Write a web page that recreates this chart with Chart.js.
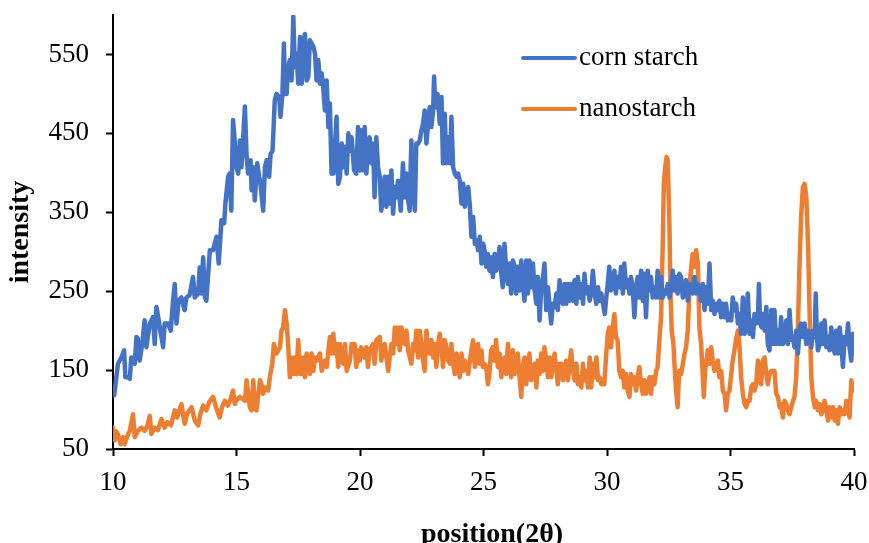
<!DOCTYPE html>
<html>
<head>
<meta charset="utf-8">
<script src="https://cdn.jsdelivr.net/npm/chart.js@4/dist/chart.umd.min.js"></script>
<style>
  html, body { margin: 0; padding: 0; background: #fff; }
  #c { display: block; }
</style>
</head>
<body>
<canvas id="c" width="869" height="543"></canvas>
<script>
// ---- data ----
const seriesNames = ["corn starch", "nanostarch"];
const xTitle = "position(2θ)";
const yTitle = "intensity";
const yTickValues = [50, 150, 250, 350, 450, 550];

const cornAngle = [
  10.00,10.05,10.20,10.34,10.45,10.50,10.60,10.68,10.74,10.88,
  10.95,11.00,11.08,11.18,11.28,11.35,11.49,11.62,11.69,11.76,
  11.85,11.96,12.03,12.09,12.23,12.34,12.43,12.50,12.57,12.66,
  12.77,12.90,12.97,13.10,13.24,13.31,13.45,13.51,13.58,13.65,
  13.72,13.78,13.92,14.05,14.19,14.28,14.39,14.50,14.55,14.66,
  14.72,14.79,14.86,14.93,15.00,15.07,15.14,15.20,15.27,15.34,
  15.41,15.47,15.57,15.61,15.68,15.74,15.84,15.92,15.97,16.08,
  16.15,16.22,16.32,16.38,16.46,16.55,16.62,16.73,16.78,16.86,
  16.92,16.96,17.03,17.09,17.16,17.23,17.30,17.36,17.43,17.50,
  17.57,17.64,17.70,17.77,17.84,17.91,17.97,18.04,18.11,18.18,
  18.24,18.31,18.38,18.45,18.51,18.58,18.65,18.72,18.78,18.85,
  18.92,18.99,19.05,19.12,19.19,19.26,19.32,19.39,19.46,19.53,
  19.59,19.66,19.76,19.85,19.92,19.99,20.05,20.12,20.19,20.26,
  20.32,20.39,20.46,20.53,20.59,20.66,20.73,20.80,20.86,20.93,
  21.00,21.07,21.14,21.20,21.27,21.34,21.41,21.47,21.54,21.65,
  21.74,21.81,21.88,21.95,22.01,22.08,22.15,22.22,22.28,22.35,
  22.42,22.49,22.55,22.62,22.69,22.76,22.82,22.89,22.96,23.00,
  23.05,23.14,23.23,23.30,23.36,23.43,23.50,23.57,23.64,23.70,
  23.77,23.84,23.91,23.97,24.04,24.11,24.18,24.24,24.31,24.38,
  24.45,24.51,24.58,24.65,24.72,24.78,24.85,24.92,24.99,25.04,
  25.11,25.18,25.24,25.31,25.38,25.45,25.51,25.58,25.65,25.72,
  25.78,25.85,25.92,25.99,26.05,26.12,26.19,26.26,26.32,26.39,
  26.46,26.53,26.59,26.66,26.73,26.80,26.86,26.93,27.00,27.07,
  27.14,27.20,27.27,27.34,27.41,27.47,27.54,27.61,27.68,27.74,
  27.81,27.88,27.95,28.01,28.08,28.15,28.22,28.28,28.35,28.42,
  28.49,28.55,28.62,28.69,28.76,28.82,28.89,28.96,29.03,29.09,
  29.16,29.23,29.30,29.36,29.43,29.50,29.57,29.64,29.70,29.77,
  29.84,29.91,29.97,30.03,30.09,30.16,30.23,30.30,30.36,30.43,
  30.50,30.57,30.64,30.70,30.77,30.84,30.91,30.97,31.04,31.11,
  31.18,31.24,31.31,31.38,31.45,31.51,31.58,31.65,31.72,31.78,
  31.85,31.92,31.99,32.05,32.12,32.19,32.26,32.32,32.39,32.46,
  32.53,32.59,32.66,32.73,32.80,32.86,32.93,33.00,33.07,33.14,
  33.20,33.27,33.34,33.41,33.47,33.54,33.61,33.68,33.74,33.81,
  33.88,33.95,34.01,34.08,34.15,34.22,34.28,34.35,34.42,34.49,
  34.55,34.62,34.69,34.76,34.82,34.89,34.96,35.03,35.09,35.16,
  35.23,35.30,35.36,35.43,35.50,35.57,35.64,35.70,35.77,35.84,
  35.91,35.97,36.04,36.11,36.15,36.20,36.27,36.31,36.38,36.45,
  36.51,36.58,36.65,36.72,36.78,36.85,36.92,36.99,37.05,37.12,
  37.19,37.26,37.32,37.39,37.46,37.53,37.59,37.66,37.73,37.80,
  37.86,37.93,38.00,38.07,38.14,38.20,38.27,38.34,38.41,38.45,
  38.50,38.54,38.61,38.68,38.74,38.81,38.88,38.95,39.01,39.08,
  39.15,39.22,39.28,39.35,39.42,39.49,39.55,39.62,39.69,39.76,
  39.82,39.89,39.96,40.00
];
const cornIntensity = [
  128,118,158,166,175,141,141,139,166,158,
  192,190,162,183,213,179,209,217,183,230,
  213,192,179,209,209,200,238,259,209,238,
  242,226,242,245,268,242,247,280,247,293,
  242,238,302,302,319,285,340,336,361,395,
  399,352,467,440,407,399,441,407,445,484,
  420,399,416,378,407,365,412,395,386,352,
  407,416,395,424,428,492,500,496,471,500,
  564,500,500,534,543,517,598,534,551,513,
  572,513,564,576,517,522,568,564,560,551,
  517,543,513,526,509,479,517,458,488,399,
  399,437,471,386,395,437,407,433,399,450,
  428,445,403,399,458,403,454,403,458,399,
  437,445,412,437,369,445,407,395,352,369,
  395,357,395,361,403,348,382,369,390,352,
  412,369,399,365,352,441,382,352,437,437,
  441,454,462,479,437,462,483,458,479,522,
  483,500,462,496,412,475,412,445,412,471,
  407,399,395,399,390,361,386,357,369,382,
  357,319,344,310,314,302,319,285,310,302,
  281,297,276,293,268,297,276,285,306,272,
  255,310,276,259,285,247,289,281,247,281,
  251,289,259,238,289,247,289,255,285,251,
  234,268,213,255,268,285,226,255,230,209,
  234,230,247,226,264,238,234,259,234,259,
  238,259,238,264,234,268,242,259,234,272,
  247,255,238,247,276,247,234,255,238,247,
  234,221,242,259,281,251,259,276,247,268,
  255,281,247,285,255,264,247,268,255,217,
  255,268,242,276,238,272,217,276,251,268,
  242,255,242,276,242,268,242,251,247,259,
  242,251,276,251,268,247,272,268,242,247,
  264,238,259,255,247,268,247,259,251,238,
  259,226,255,234,285,226,238,221,234,226,
  238,217,234,217,234,213,221,213,242,226,
  234,209,221,196,242,196,209,247,196,213,
  192,221,209,213,259,209,204,221,200,230,
  183,175,226,183,226,183,200,183,217,183,
  188,213,183,226,188,192,179,200,171,204,
  209,192,209,183,200,196,179,200,192,247,
  192,175,183,209,183,213,179,192,175,204,
  179,171,200,171,204,183,154,192,183,209,
  179,162,196,179
];

const nanoAngle = [
  10.00,10.07,10.14,10.20,10.31,10.41,10.47,10.61,10.68,10.81,
  10.88,11.01,11.15,11.28,11.40,11.49,11.55,11.69,11.82,11.96,
  12.09,12.20,12.35,12.50,12.60,12.77,12.90,13.00,13.18,13.31,
  13.45,13.55,13.65,13.78,13.90,14.05,14.20,14.32,14.42,14.53,
  14.65,14.75,14.86,14.93,15.00,15.14,15.34,15.41,15.54,15.61,
  15.68,15.74,15.81,15.95,16.01,16.08,16.15,16.28,16.35,16.45,
  16.51,16.62,16.76,16.82,16.89,16.96,17.03,17.09,17.16,17.23,
  17.30,17.36,17.43,17.50,17.57,17.64,17.70,17.77,17.84,17.91,
  17.97,18.04,18.11,18.18,18.24,18.38,18.45,18.58,18.65,18.78,
  18.85,18.92,18.99,19.05,19.12,19.19,19.26,19.32,19.39,19.46,
  19.59,19.66,19.78,19.85,19.92,19.99,20.05,20.19,20.26,20.32,
  20.39,20.53,20.59,20.66,20.80,20.86,21.00,21.14,21.20,21.27,
  21.34,21.41,21.47,21.54,21.61,21.68,21.74,21.81,21.88,21.95,
  22.08,22.15,22.22,22.28,22.35,22.42,22.49,22.55,22.62,22.69,
  22.76,22.82,22.89,22.96,23.03,23.09,23.16,23.23,23.30,23.36,
  23.43,23.50,23.57,23.64,23.70,23.77,23.84,23.91,23.97,24.04,
  24.11,24.18,24.24,24.31,24.38,24.45,24.51,24.58,24.65,24.72,
  24.78,24.85,24.92,24.97,25.04,25.11,25.18,25.24,25.31,25.38,
  25.45,25.51,25.58,25.65,25.72,25.78,25.85,25.92,25.99,26.05,
  26.12,26.19,26.26,26.32,26.39,26.46,26.53,26.59,26.66,26.73,
  26.80,26.86,26.93,27.00,27.07,27.14,27.20,27.27,27.34,27.41,
  27.47,27.54,27.61,27.68,27.74,27.81,27.88,27.95,28.01,28.08,
  28.15,28.22,28.28,28.35,28.42,28.49,28.55,28.62,28.69,28.76,
  28.82,28.89,28.96,29.03,29.09,29.16,29.23,29.30,29.36,29.43,
  29.50,29.57,29.64,29.70,29.77,29.84,29.89,29.96,30.03,30.09,
  30.16,30.23,30.30,30.36,30.43,30.50,30.57,30.64,30.70,30.77,
  30.84,30.91,30.97,31.04,31.11,31.18,31.24,31.31,31.38,31.45,
  31.51,31.58,31.65,31.72,31.78,31.85,31.92,31.99,32.05,32.12,
  32.19,32.26,32.30,32.36,32.41,32.46,32.53,32.57,32.62,32.69,
  32.76,32.81,32.86,32.92,33.00,33.07,33.14,33.20,33.27,33.34,
  33.41,33.47,33.54,33.61,33.68,33.74,33.81,33.88,33.92,33.97,
  34.01,34.08,34.15,34.22,34.28,34.35,34.42,34.49,34.55,34.62,
  34.69,34.76,34.82,34.89,34.96,35.03,35.09,35.16,35.23,35.30,
  35.36,35.43,35.50,35.57,35.64,35.70,35.77,35.84,35.91,35.97,
  36.04,36.11,36.18,36.24,36.31,36.38,36.45,36.51,36.58,36.65,
  36.72,36.78,36.85,36.92,36.99,37.05,37.12,37.19,37.26,37.32,
  37.39,37.46,37.53,37.59,37.66,37.73,37.80,37.86,37.93,38.00,
  38.07,38.14,38.20,38.27,38.34,38.41,38.47,38.54,38.61,38.68,
  38.74,38.81,38.88,38.95,39.01,39.08,39.15,39.22,39.28,39.35,
  39.42,39.49,39.55,39.62,39.69,39.76,39.82,39.89,39.96,40.00
];
const nanoIntensity = [
  77,61,72,69,56,65,56,69,73,94,
  65,73,77,73,80,92,69,77,74,88,
  77,84,80,99,90,107,82,95,103,86,
  80,96,105,99,110,116,100,90,104,111,
  105,112,124,107,112,116,111,137,103,99,
  137,101,99,137,132,120,128,124,141,158,
  183,171,179,200,204,226,209,183,141,166,
  145,166,145,188,145,145,166,141,171,158,
  145,171,149,166,162,171,149,162,154,192,
  171,196,171,183,154,183,166,158,183,149,
  162,183,183,154,175,162,179,166,179,154,
  175,183,158,188,192,162,183,149,166,183,
  171,204,183,204,175,204,188,183,200,175,
  158,183,175,200,166,200,183,162,149,200,
  175,171,188,166,183,154,183,196,179,154,
  188,179,162,158,183,158,145,171,158,141,
  171,149,162,158,145,162,175,188,154,162,
  183,158,175,154,158,154,132,145,175,179,
  162,188,154,171,141,158,166,145,183,162,
  141,175,145,158,171,141,116,154,166,132,
  158,171,137,149,158,128,162,145,171,149,
  179,162,141,166,141,158,171,149,132,158,
  158,137,149,162,137,158,175,149,137,158,
  132,141,128,158,137,149,128,166,128,158,
  141,166,137,141,132,137,132,166,196,204,
  179,204,221,192,188,149,141,149,128,145,
  124,116,145,132,141,124,141,154,132,120,
  137,120,128,141,120,141,132,149,154,188,
  217,314,386,407,420,416,331,247,200,183,
  141,120,103,149,145,158,171,179,200,255,
  281,297,281,302,285,204,183,141,116,149,
  158,175,158,179,162,149,154,162,141,149,
  124,120,99,120,124,145,162,175,190,200,
  183,141,120,107,103,111,111,128,132,124,
  132,162,141,132,162,166,145,132,145,149,
  149,149,120,116,103,107,90,111,107,99,
  94,103,111,116,141,204,289,344,382,386,
  369,310,226,141,116,103,111,99,107,94,
  99,111,99,86,103,90,103,86,99,82,
  103,94,99,94,111,99,90,137,124,128
];

// ---- chart ----
const FONT = "'Liberation Serif', 'Times New Roman', serif";
const seriesColors = ["#4472C4", "#ED7D31"];

const toPoints = (xs, ys) => xs.map((x, i) => ({ x: x, y: ys[i] }));

const insideLegend = {
  id: 'insideLegend',
  afterDraw(chart) {
    const ctx = chart.ctx;
    ctx.save();
    // legend rows (placed inside the plot, top right)
    const rows = [58, 109];
    chart.data.datasets.forEach((ds, i) => {
      const y = rows[i];
      ctx.strokeStyle = ds.borderColor;
      ctx.lineWidth = 4;
      ctx.lineCap = 'round';
      ctx.beginPath();
      ctx.moveTo(523, y);
      ctx.lineTo(575, y);
      ctx.stroke();
      ctx.fillStyle = '#000';
      ctx.font = "27px " + FONT;
      ctx.textAlign = 'left';
      ctx.textBaseline = 'middle';
      ctx.fillText(ds.label, 579, y);
    });
    // x axis title
    ctx.font = "bold 28px " + FONT;
    ctx.textAlign = 'center';
    ctx.textBaseline = 'alphabetic';
    ctx.fillStyle = '#000';
    ctx.fillText(xTitle, 492, 542);
    ctx.restore();
  }
};

new Chart(document.getElementById('c'), {
  type: 'line',
  data: {
    datasets: [
      { label: seriesNames[0], data: toPoints(cornAngle, cornIntensity),
        borderColor: seriesColors[0], backgroundColor: seriesColors[0],
        borderWidth: 4.5, borderJoinStyle: 'round', borderCapStyle: 'round' },
      { label: seriesNames[1], data: toPoints(nanoAngle, nanoIntensity),
        borderColor: seriesColors[1], backgroundColor: seriesColors[1],
        borderWidth: 4.5, borderJoinStyle: 'round', borderCapStyle: 'round' }
    ]
  },
  options: {
    responsive: false,
    devicePixelRatio: 1,
    animation: false,
    layout: { padding: { top: 15, right: 15, bottom: 0, left: 0 } },
    elements: {
      point: { radius: 0, hoverRadius: 0 },
      line: { tension: 0 }
    },
    plugins: {
      legend: { display: false },
      tooltip: { enabled: false },
      title: { display: false }
    },
    scales: {
      x: {
        type: 'linear',
        min: 10, max: 40,
        ticks: { stepSize: 5, color: '#000', padding: 13,
                 font: { family: FONT, size: 27, lineHeight: 1 } },
        grid: { drawOnChartArea: false, drawTicks: true, tickLength: 7,
                tickWidth: 2, tickColor: '#000' },
        border: { display: true, color: '#000', width: 2 },
        afterFit(scale) {
          scale.height = 94;
          scale.paddingLeft = 0; scale.paddingRight = 0;
        }
      },
      y: {
        type: 'linear',
        min: 50, max: 600,
        afterBuildTicks(scale) { scale.ticks = yTickValues.map(v => ({ value: v })); },
        ticks: { color: '#000', padding: 17,
                 font: { family: FONT, size: 27, lineHeight: 1 } },
        grid: { drawOnChartArea: false, drawTicks: true, tickLength: 7,
                tickWidth: 2, tickColor: '#000' },
        border: { display: true, color: '#000', width: 2 },
        title: { display: true, text: yTitle, color: '#000', padding: { top: 4, bottom: 0 },
                 font: { family: FONT, size: 28, weight: 'bold', lineHeight: 1.2 } },
        afterFit(scale) {
          scale.width = 113;
          scale.paddingTop = 0; scale.paddingBottom = 0;
        }
      }
    }
  },
  plugins: [insideLegend]
});
</script>
</body>
</html>
